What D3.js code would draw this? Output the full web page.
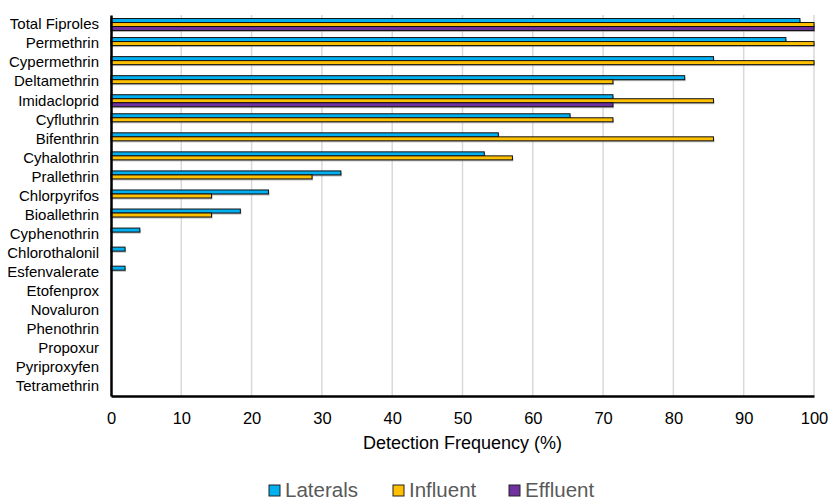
<!DOCTYPE html>
<html>
<head>
<meta charset="utf-8">
<script src="https://cdn.jsdelivr.net/npm/d3@7"></script>
<style>
  body { margin: 0; background: #fff; }
  text { font-family: Arial, "Liberation Sans", sans-serif; }
</style>
</head>
<body>
<div id="chart"></div>
<script>
// chart data
var compounds = ["Total Fiproles", "Permethrin", "Cypermethrin", "Deltamethrin", "Imidacloprid",
    "Cyfluthrin", "Bifenthrin", "Cyhalothrin", "Prallethrin", "Chlorpyrifos", "Bioallethrin",
    "Cyphenothrin", "Chlorothalonil", "Esfenvalerate", "Etofenprox", "Novaluron", "Phenothrin",
    "Propoxur", "Pyriproxyfen", "Tetramethrin"];
var seriesNames = ["Laterals", "Influent", "Effluent"];
var laterals = [98.0, 96.0, 85.7, 81.6, 71.4, 65.3, 55.1, 53.1, 32.7, 22.4, 18.4, 4.1, 2.0, 2.0, 0, 0, 0, 0, 0, 0];
var influent = [100, 100, 100, 71.4, 85.7, 71.4, 85.7, 57.1, 28.6, 14.3, 14.3, 0, 0, 0, 0, 0, 0, 0, 0, 0];
var effluent = [100, 0, 0, 0, 71.4, 0, 0, 0, 0, 0, 0, 0, 0, 0, 0, 0, 0, 0, 0, 0];
var xTicks = [0, 10, 20, 30, 40, 50, 60, 70, 80, 90, 100];
var colors = ["#00B0F0", "#FFC000", "#7030A0"];

var svgWidth = 829, svgHeight = 501;
var margin = { top: 15, right: 15, bottom: 105, left: 111 };
var width = svgWidth - margin.left - margin.right;
var height = svgHeight - margin.top - margin.bottom;

var svg = d3.select("#chart").append("svg")
    .attr("width", svgWidth)
    .attr("height", svgHeight);

var chartGroup = svg.append("g")
    .attr("transform", `translate(${margin.left}, ${margin.top})`);

// build rows
var rows = compounds.map(function (c, i) {
    return { name: c, values: [laterals[i], influent[i], effluent[i]] };
});

// scales
var xScale = d3.scaleLinear().domain([0, 100]).range([0, width]);
var yScale = d3.scaleBand().domain(compounds).range([0, height]).paddingInner(0.37).paddingOuter(0.185);
var y1Scale = d3.scaleBand().domain(seriesNames).range([0, yScale.bandwidth()]);

// gridlines
chartGroup.append("g")
    .selectAll("line")
    .data(xTicks.slice(1))
    .enter()
    .append("line")
    .attr("x1", d => xScale(d))
    .attr("x2", d => xScale(d))
    .attr("y1", 0)
    .attr("y2", height)
    .attr("stroke", "#d9d9d9")
    .attr("stroke-width", 1.5);

// bars
var groups = chartGroup.selectAll(".row")
    .data(rows)
    .enter()
    .append("g")
    .attr("class", "row")
    .attr("transform", d => `translate(0, ${yScale(d.name)})`);

var barData = function (d) {
    return d.values.map(function (v, j) { return { key: seriesNames[j], value: v, idx: j }; })
        .filter(function (b) { return b.value > 0; });
};

// soft shadow under each bar
groups.selectAll(".shadow")
    .data(barData)
    .enter()
    .append("rect")
    .attr("class", "shadow")
    .attr("x", 1)
    .attr("y", d => y1Scale(d.key) + 1.5)
    .attr("width", d => xScale(d.value))
    .attr("height", y1Scale.bandwidth())
    .attr("fill", "#7f7f7f")
    .attr("opacity", 0.55);

groups.selectAll(".bar")
    .data(barData)
    .enter()
    .append("rect")
    .attr("class", "bar")
    .attr("x", 0)
    .attr("y", d => y1Scale(d.key))
    .attr("width", d => xScale(d.value))
    .attr("height", y1Scale.bandwidth())
    .attr("fill", d => colors[d.idx])
    .attr("stroke", "#111")
    .attr("stroke-width", 1);

// axes
var bottomAxis = d3.axisBottom(xScale).tickValues(xTicks).tickSize(0).tickPadding(16);
var leftAxis = d3.axisLeft(yScale).tickSize(0).tickPadding(12);

var xAxis = chartGroup.append("g")
    .attr("transform", `translate(0, ${height})`)
    .call(bottomAxis);
xAxis.select(".domain").attr("stroke", "#000").attr("stroke-width", 2.5);
xAxis.selectAll("text")
    .attr("font-size", "16.5px")
    .attr("font-family", "Arial, 'Liberation Sans', sans-serif")
    .attr("fill", "#000");

var yAxis = chartGroup.append("g").call(leftAxis);
yAxis.select(".domain").attr("stroke", "#000").attr("stroke-width", 2.5);
yAxis.selectAll("text")
    .attr("font-size", "15px")
    .attr("font-family", "Arial, 'Liberation Sans', sans-serif")
    .attr("fill", "#000");

// x axis title
chartGroup.append("text")
    .attr("x", width / 2)
    .attr("y", height + 53)
    .attr("text-anchor", "middle")
    .attr("font-size", "18px")
    .attr("fill", "#000")
    .text("Detection Frequency (%)");

// legend
var legendX = [269, 393, 509];
var legend = svg.append("g").attr("transform", "translate(0, 485)");
seriesNames.forEach(function (name, i) {
    legend.append("rect")
        .attr("x", legendX[i])
        .attr("y", 0)
        .attr("width", 11)
        .attr("height", 11)
        .attr("fill", colors[i])
        .attr("stroke", "#222")
        .attr("stroke-width", 1);
    legend.append("text")
        .attr("x", legendX[i] + 16)
        .attr("y", 12)
        .attr("font-size", "20.5px")
        .attr("fill", "#595959")
        .text(name);
});
</script>
</body>
</html>
